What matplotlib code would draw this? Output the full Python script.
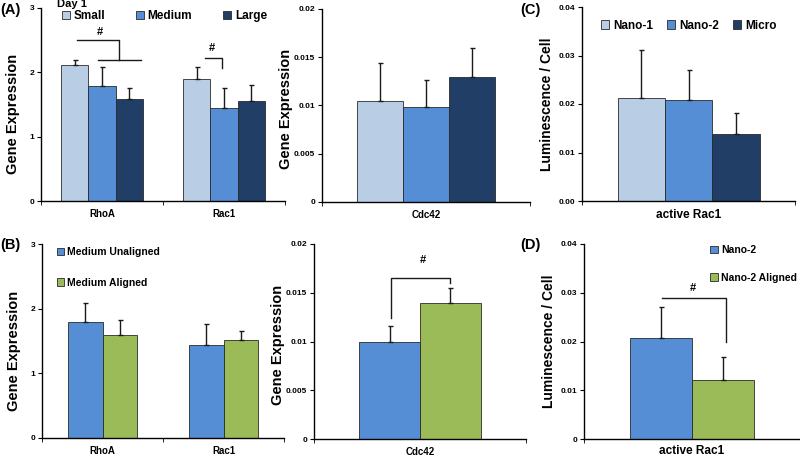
import numpy as np
import matplotlib.pyplot as plt
from matplotlib.ticker import FixedLocator

plt.rcParams['font.family'] = ['Liberation Sans', 'DejaVu Sans']
plt.rcParams['font.weight'] = 'bold'

# ---- data (bar value, top of error bar) ----
genes = ['RhoA', 'Rac1']
small = [2.12, 1.89];   small_top = [2.19, 2.09]
medium = [1.78, 1.44];  medium_top = [2.08, 1.76]
large = [1.59, 1.55];   large_top = [1.76, 1.81]

cdc_small, cdc_small_top = [0.0105], [0.0144]
cdc_medium, cdc_medium_top = [0.0098], [0.0126]
cdc_large, cdc_large_top = [0.0130], [0.0160]

rac_names = ['Nano-1', 'Nano-2', 'Micro']
rac_vals = [0.0213, 0.0208, 0.0139]
rac_tops = [0.0311, 0.0271, 0.0181]

unal = [1.79, 1.44];  unal_top = [2.08, 1.76]
alig = [1.59, 1.51];  alig_top = [1.82, 1.65]
cdc_unal, cdc_unal_top = [0.0099], [0.0116]
cdc_alig, cdc_alig_top = [0.0140], [0.0155]

d_names = ['Nano-2', 'Nano-2 Aligned']
d_vals = [0.0208, 0.0121]
d_tops = [0.0271, 0.0168]

c_light = '#B9CDE5'
c_mid = '#558ED5'
c_dark = '#213F66'
c_green = '#9BBB59'

W, H = 800, 457
fig = plt.figure(figsize=(8, 4.57), dpi=100)

def mkax(l, r, t, b):
    return fig.add_axes([l / W, (H - b) / H, (r - l) / W, (b - t) / H])

def style(ax, cats, ymax, yticks, ylabels, xfs=7):
    ax.spines['top'].set_visible(False)
    ax.spines['right'].set_visible(False)
    for s in ['left', 'bottom']:
        ax.spines[s].set_linewidth(1.0)
    n = len(cats)
    ax.set_xlim(-0.5, n - 0.5)
    ax.set_ylim(0, ymax)
    ax.set_xticks(range(n))
    ax.set_xticklabels(cats, fontsize=xfs, fontweight='bold')
    ax.tick_params(axis='x', which='major', length=0, pad=6)
    ax.xaxis.set_minor_locator(FixedLocator(np.arange(-0.5, n, 1.0)))
    ax.tick_params(axis='x', which='minor', length=3, direction='out')
    ax.set_yticks(yticks)
    ax.set_yticklabels(ylabels, fontsize=6, fontweight='bold')
    ax.tick_params(axis='y', length=3, direction='out', pad=2)

def bars(ax, series, colors, names):
    n = len(series)
    w = 1.0 / (n + 1.5)
    for i, (vals, tops) in enumerate(series):
        x = np.arange(len(vals)) + (i - (n - 1) / 2) * w
        err = np.array(tops) - np.array(vals)
        ax.bar(x, vals, w, color=colors[i], edgecolor='#2a2a2a', linewidth=0.6,
               label=names[i], yerr=[np.zeros(len(vals)), err],
               error_kw=dict(ecolor='#1a1a1a', elinewidth=1.0, capsize=1.8, capthick=1.0))

def bracket(ax, xs, ys, tx, ty):
    ax.plot(xs, ys, color='#1a1a1a', lw=1.0)
    ax.text(tx, ty, '#', ha='center', va='center', fontsize=8, fontweight='bold')

def legend(ax, anchor, ncol=1, fs=8.5, cs=1.2, ls=0.5):
    ax.legend(loc='upper left', bbox_to_anchor=anchor, ncol=ncol, frameon=False,
              fontsize=fs, handlelength=0.7, handleheight=0.7, handletextpad=0.3,
              columnspacing=cs, labelspacing=ls, borderpad=0, borderaxespad=0)

# ---- (A) ----
axA = mkax(41, 285, 8, 201)
bars(axA, [(small, small_top), (medium, medium_top), (large, large_top)],
     [c_light, c_mid, c_dark], ['Small', 'Medium', 'Large'])
style(axA, genes, 3, [0, 1, 2, 3], ['0', '1', '2', '3'])
axA.set_ylabel('Gene Expression', fontsize=10.5, fontweight='bold')
axA.yaxis.set_label_coords(-0.085, 0.45)
bracket(axA, [-0.205, 0.139, 0.139], [2.50, 2.50, 2.19], -0.016, 2.63)
axA.plot([-0.033, 0.32], [2.19, 2.19], color='#1a1a1a', lw=1.0)
bracket(axA, [0.844, 0.984, 0.984], [2.22, 2.22, 2.07], 0.90, 2.38)
legend(axA, (0.085, 0.99), ncol=3, fs=8.5, cs=2.6)
axA.text(0.066, 1.022, 'Day 1', transform=axA.transAxes, fontsize=8, fontweight='bold',
         va='center', ha='left')
fig.text(0 / W, 1 - 10 / H, '(A)', fontsize=10.5, fontweight='bold', va='center', ha='left')

# ---- Cdc42 top ----
axA2 = mkax(322, 530, 9, 202)
bars(axA2, [(cdc_small, cdc_small_top), (cdc_medium, cdc_medium_top), (cdc_large, cdc_large_top)],
     [c_light, c_mid, c_dark], ['Small', 'Medium', 'Large'])
style(axA2, ['Cdc42'], 0.02, [0, 0.005, 0.01, 0.015, 0.02], ['0', '0.005', '0.01', '0.015', '0.02'])
axA2.set_ylabel('Gene Expression', fontsize=10.5, fontweight='bold')
axA2.yaxis.set_label_coords(-0.14, 0.48)

# ---- (C) ----
axC = mkax(582, 795, 7, 201)
bars(axC, [([rac_vals[0]], [rac_tops[0]]), ([rac_vals[1]], [rac_tops[1]]), ([rac_vals[2]], [rac_tops[2]])],
     [c_light, c_mid, c_dark], rac_names)
style(axC, ['active Rac1'], 0.04, [0, 0.01, 0.02, 0.03, 0.04],
      ['0.00', '0.01', '0.02', '0.03', '0.04'], xfs=8.5)
axC.set_ylabel('Luminescence / Cell', fontsize=10, fontweight='bold')
axC.yaxis.set_label_coords(-0.13, 0.5)
legend(axC, (0.09, 0.935), ncol=3, fs=8.5, cs=1.2)
fig.text(520 / W, 1 - 10 / H, '(C)', fontsize=10.5, fontweight='bold', va='center', ha='left')

# ---- (B) ----
axB = mkax(42, 284, 244, 438)
bars(axB, [(unal, unal_top), (alig, alig_top)], [c_mid, c_green],
     ['Medium Unaligned', 'Medium Aligned'])
style(axB, genes, 3, [0, 1, 2, 3], ['0', '1', '2', '3'])
axB.set_ylabel('Gene Expression', fontsize=10.5, fontweight='bold')
axB.yaxis.set_label_coords(-0.085, 0.45)
legend(axB, (0.06, 0.985), fs=7.5, ls=2.0)
fig.text(0 / W, 1 - 245 / H, '(B)', fontsize=10.5, fontweight='bold', va='center', ha='left')

# ---- Cdc42 bottom ----
axB2 = mkax(314, 526, 244, 439)
bars(axB2, [(cdc_unal, cdc_unal_top), (cdc_alig, cdc_alig_top)], [c_mid, c_green],
     ['Medium Unaligned', 'Medium Aligned'])
style(axB2, ['Cdc42'], 0.02, [0, 0.005, 0.01, 0.015, 0.02], ['0', '0.005', '0.01', '0.015', '0.02'])
axB2.set_ylabel('Gene Expression', fontsize=10.5, fontweight='bold')
axB2.yaxis.set_label_coords(-0.135, 0.48)
bracket(axB2, [-0.137, -0.137, 0.142, 0.142], [0.0124, 0.0165, 0.0165, 0.0160], 0.014, 0.0184)

# ---- (D) ----
axD = mkax(584, 800, 244, 439)
bars(axD, [([d_vals[0]], [d_tops[0]]), ([d_vals[1]], [d_tops[1]])], [c_mid, c_green], d_names)
style(axD, ['active Rac1'], 0.04, [0, 0.01, 0.02, 0.03, 0.04],
      ['0', '0.01', '0.02', '0.03', '0.04'], xfs=8.5)
axD.tick_params(axis='x', which='major', pad=4)
axD.set_ylabel('Luminescence / Cell', fontsize=10, fontweight='bold')
axD.yaxis.set_label_coords(-0.13, 0.5)
bracket(axD, [-0.139, 0.157, 0.157], [0.0289, 0.0289, 0.0199], 0.005, 0.031)
legend(axD, (0.585, 0.995), fs=7.5, ls=1.7)
fig.text(520 / W, 1 - 245 / H, '(D)', fontsize=10.5, fontweight='bold', va='center', ha='left')

fig.savefig('out.png', dpi=100)
